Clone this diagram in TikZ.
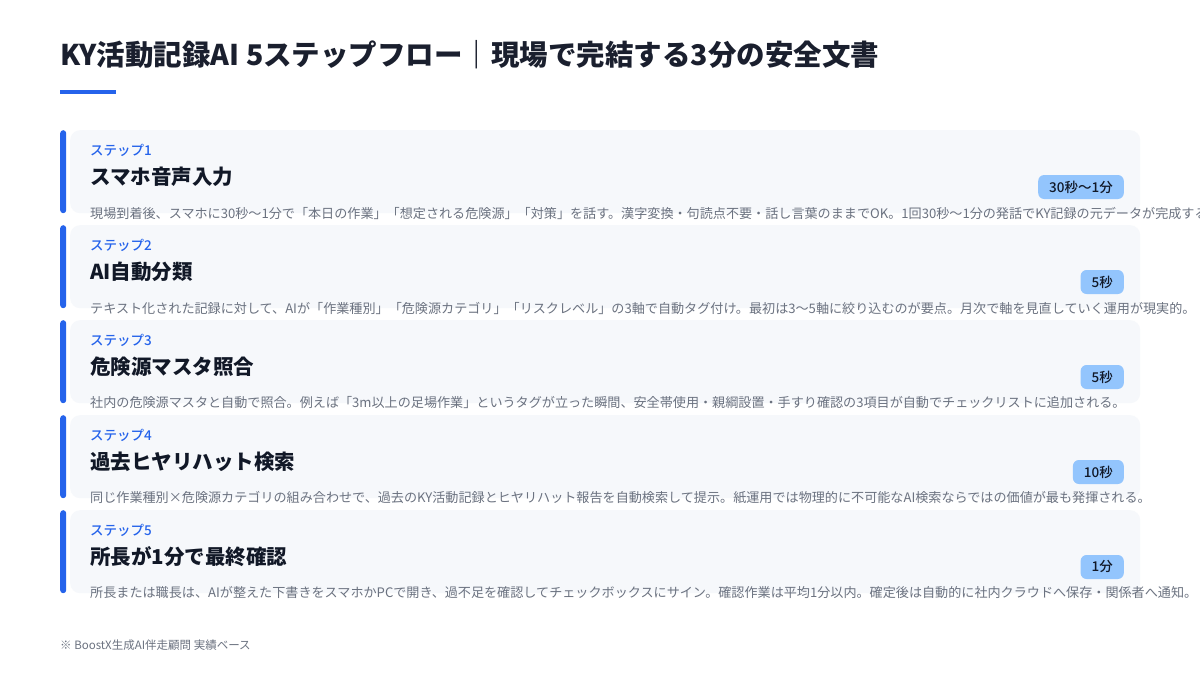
\documentclass[tikz,border=0pt]{standalone}
\usepackage{fontspec}
\setmainfont{Noto Sans CJK JP}
\newfontfamily\medfont{Noto Sans CJK JP Medium}
\definecolor{titlec}{HTML}{1A1F2E}
\definecolor{accent}{HTML}{2563EB}
\definecolor{cardbg}{HTML}{F6F8FB}
\definecolor{badgec}{HTML}{93C5FD}
\definecolor{descc}{HTML}{6B7280}
\definecolor{headc}{HTML}{111827}
\tikzset{
  txt/.style={inner sep=0pt, anchor=west},
  titletext/.style={txt, text=titlec, font=\fontsize{28.5}{33}\selectfont\bfseries},
  cardbox/.style={fill=cardbg, draw=none, rounded corners=10pt, minimum width=1070pt, minimum height=83pt, anchor=north west, inner sep=0pt},
  barbox/.style={fill=accent, draw=none, rounded corners=3pt, minimum width=6pt, minimum height=83pt, anchor=north west, inner sep=0pt},
  steplabel/.style={txt, text=accent, font=\fontsize{13.5}{15}\selectfont\medfont},
  stephead/.style={txt, text=headc, font=\fontsize{20.5}{24}\selectfont\bfseries},
  badge/.style={fill=badgec, rounded corners=6pt, inner xsep=11pt, inner ysep=0pt, minimum height=24pt, anchor=east, text=headc, font=\fontsize{13.5}{16}\selectfont\medfont},
  desc/.style={txt, text=descc, font=\fontsize{13.1}{15}\selectfont},
  foot/.style={txt, text=descc, font=\fontsize{11.5}{13}\selectfont},
}
\newcommand\kystep[5]{%
  \pgfmathsetmacro\kytop{130+95*(#1-1)}%
  \node[cardbox] (card#1) at (70,\kytop) {};
  \node[barbox] (bar#1) at (60,\kytop) {};
  \node[steplabel] (lab#1) at (90,\kytop+20) {#2};
  \node[stephead] (head#1) at (90,\kytop+47) {#3};
  \node[badge] (badge#1) at (1124,\kytop+57) {#4};
  \node[desc] (desc#1) at (90,\kytop+83) {#5};
}
\begin{document}
\begin{tikzpicture}[x=1pt,y=-1pt]
\useasboundingbox[fill=white] (0,0) rectangle (1200,675);
\node[titletext] (title) at (60,55) {KY活動記録AI 5ステップフロー｜現場で完結する3分の安全文書};
\fill[accent] (60,90) rectangle (116,94);
\kystep{1}{ステップ1}{スマホ音声入力}{30秒〜1分}{現場到着後、スマホに30秒～1分で「本日の作業」「想定される危険源」「対策」を話す。漢字変換・句読点不要・話し言葉のままでOK。1回30秒～1分の発話でKY記録の元データが完成する。}
\kystep{2}{ステップ2}{AI自動分類}{5秒}{テキスト化された記録に対して、AIが「作業種別」「危険源カテゴリ」「リスクレベル」の3軸で自動タグ付け。最初は3～5軸に絞り込むのが要点。月次で軸を見直していく運用が現実的。}
\kystep{3}{ステップ3}{危険源マスタ照合}{5秒}{社内の危険源マスタと自動で照合。例えば「3m以上の足場作業」というタグが立った瞬間、安全帯使用・親綱設置・手すり確認の3項目が自動でチェックリストに追加される。}
\kystep{4}{ステップ4}{過去ヒヤリハット検索}{10秒}{同じ作業種別×危険源カテゴリの組み合わせで、過去のKY活動記録とヒヤリハット報告を自動検索して提示。紙運用では物理的に不可能なAI検索ならではの価値が最も発揮される。}
\kystep{5}{ステップ5}{所長が1分で最終確認}{1分}{所長または職長は、AIが整えた下書きをスマホかPCで開き、過不足を確認してチェックボックスにサイン。確認作業は平均1分以内。確定後は自動的に社内クラウドへ保存・関係者へ通知。}
\node[foot] (note) at (60,645) {※ BoostX生成AI伴走顧問 実績ベース};
\end{tikzpicture}
\end{document}
